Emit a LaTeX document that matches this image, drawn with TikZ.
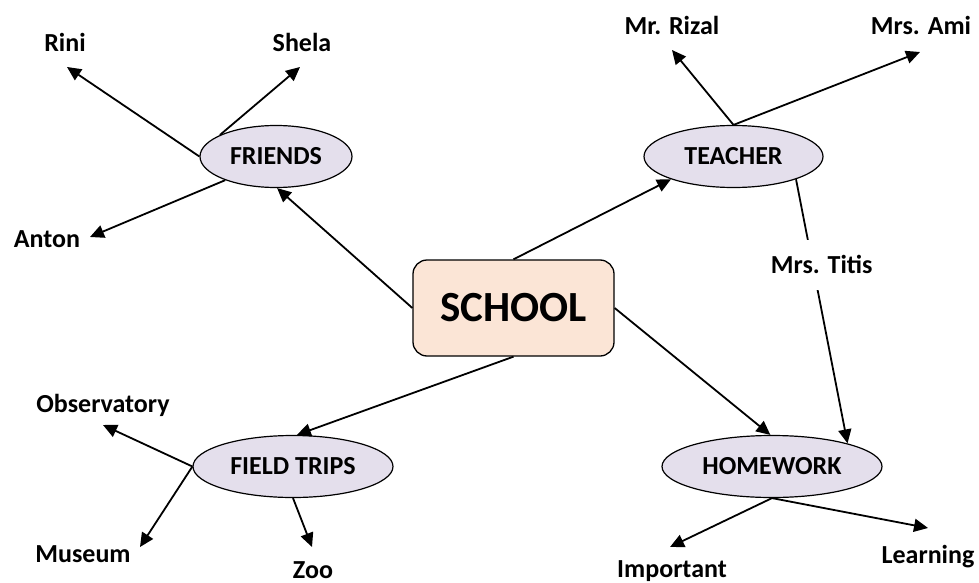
\documentclass[tikz,border=0pt]{standalone}
\usepackage{fontspec}
\setmainfont{Carlito}
\usetikzlibrary{arrows.meta,shapes.geometric}
\definecolor{boxfill}{HTML}{FBE5D6}
\definecolor{ellfill}{HTML}{E4DFEC}
\begin{document}
\begin{tikzpicture}[x=1pt,y=-1pt,
  every node/.style={font=\fontsize{26}{31}\selectfont\bfseries},
  ell/.style={ellipse, draw, fill=ellfill, line width=1.2pt, minimum height=62pt, inner sep=0pt},
  schoolbox/.style={rectangle, draw, fill=boxfill, line width=1.3pt, rounded corners=14pt,
    minimum width=201pt, minimum height=96pt, font=\fontsize{43}{50}\selectfont\bfseries},
  lbl/.style={anchor=base, inner sep=0pt},
  arr/.style={line width=1.8pt, -{Triangle[length=14pt,width=13pt]}}]
\useasboundingbox (0,0) rectangle (979,583);

% main nodes
\node[schoolbox] (school) at (513.5,308) {SCHOOL};
\node[ell, minimum width=152pt] (friends) at (276,156.5) {FRIENDS};
\node[ell, minimum width=179pt] (teacher) at (733.5,156.5) {TEACHER};
\node[ell, minimum width=200pt] (field) at (293,466.5) {FIELD TRIPS};
\node[ell, minimum width=220pt] (homework) at (772,466.5) {HOMEWORK};

% labels
\node[lbl] (rini) at (65,52) {Rini};
\node[lbl] (shela) at (302,52) {Shela};
\node[lbl] (anton) at (47,247) {Anton};
\node[lbl] (rizal) at (672,35) {Mr. Rizal};
\node[lbl] (ami) at (921,35) {Mrs. Ami};
\node[lbl] (obs) at (103,412) {Observatory};
\node[lbl] (museum) at (83,562) {Museum};
\node[lbl] (zoo) at (313,578) {Zoo};
\node[lbl] (important) at (672,577) {Important};
\node[lbl] (learning) at (928,563) {Learning};

% arrow tips (free ends)
\coordinate (rinit) at (67,67);
\coordinate (shelat) at (300,67);
\coordinate (antont) at (90,237);
\coordinate (rizalt) at (672,50);
\coordinate (amit) at (920,52);
\coordinate (obst) at (103,425);
\coordinate (museumt) at (140,547);
\coordinate (zoot) at (312,547);
\coordinate (impt) at (670,547);
\coordinate (learnt) at (928,528);

% connectors
\draw[arr] (friends.180) -- (rinit);
\draw[arr] (friends.159) -- (shelat);
\draw[arr] (friends.205) -- (antont);
\draw[arr] (teacher.north) -- (rizalt);
\draw[arr] (teacher.north) -- (amit);
\draw[arr] (field.west) -- (obst);
\draw[arr] (field.west) -- (museumt);
\draw[arr] (field.south) -- (zoot);
\draw[arr] (homework.south) -- (impt);
\draw[arr] (homework.south) -- (learnt);
\draw[arr] (school.west) -- (friends.-88);
\draw[arr] (school.north) -- (teacher.200);
\draw[arr] (school.south) -- (field.83);
\draw[arr] (school.east) -- (homework.93);
\draw[arr] (teacher.-20) -- node[fill=white, pos=.324, xshift=9pt, inner xsep=2pt, inner ysep=16pt] (titis) {Mrs. Titis} (homework.17);
\end{tikzpicture}
\end{document}
